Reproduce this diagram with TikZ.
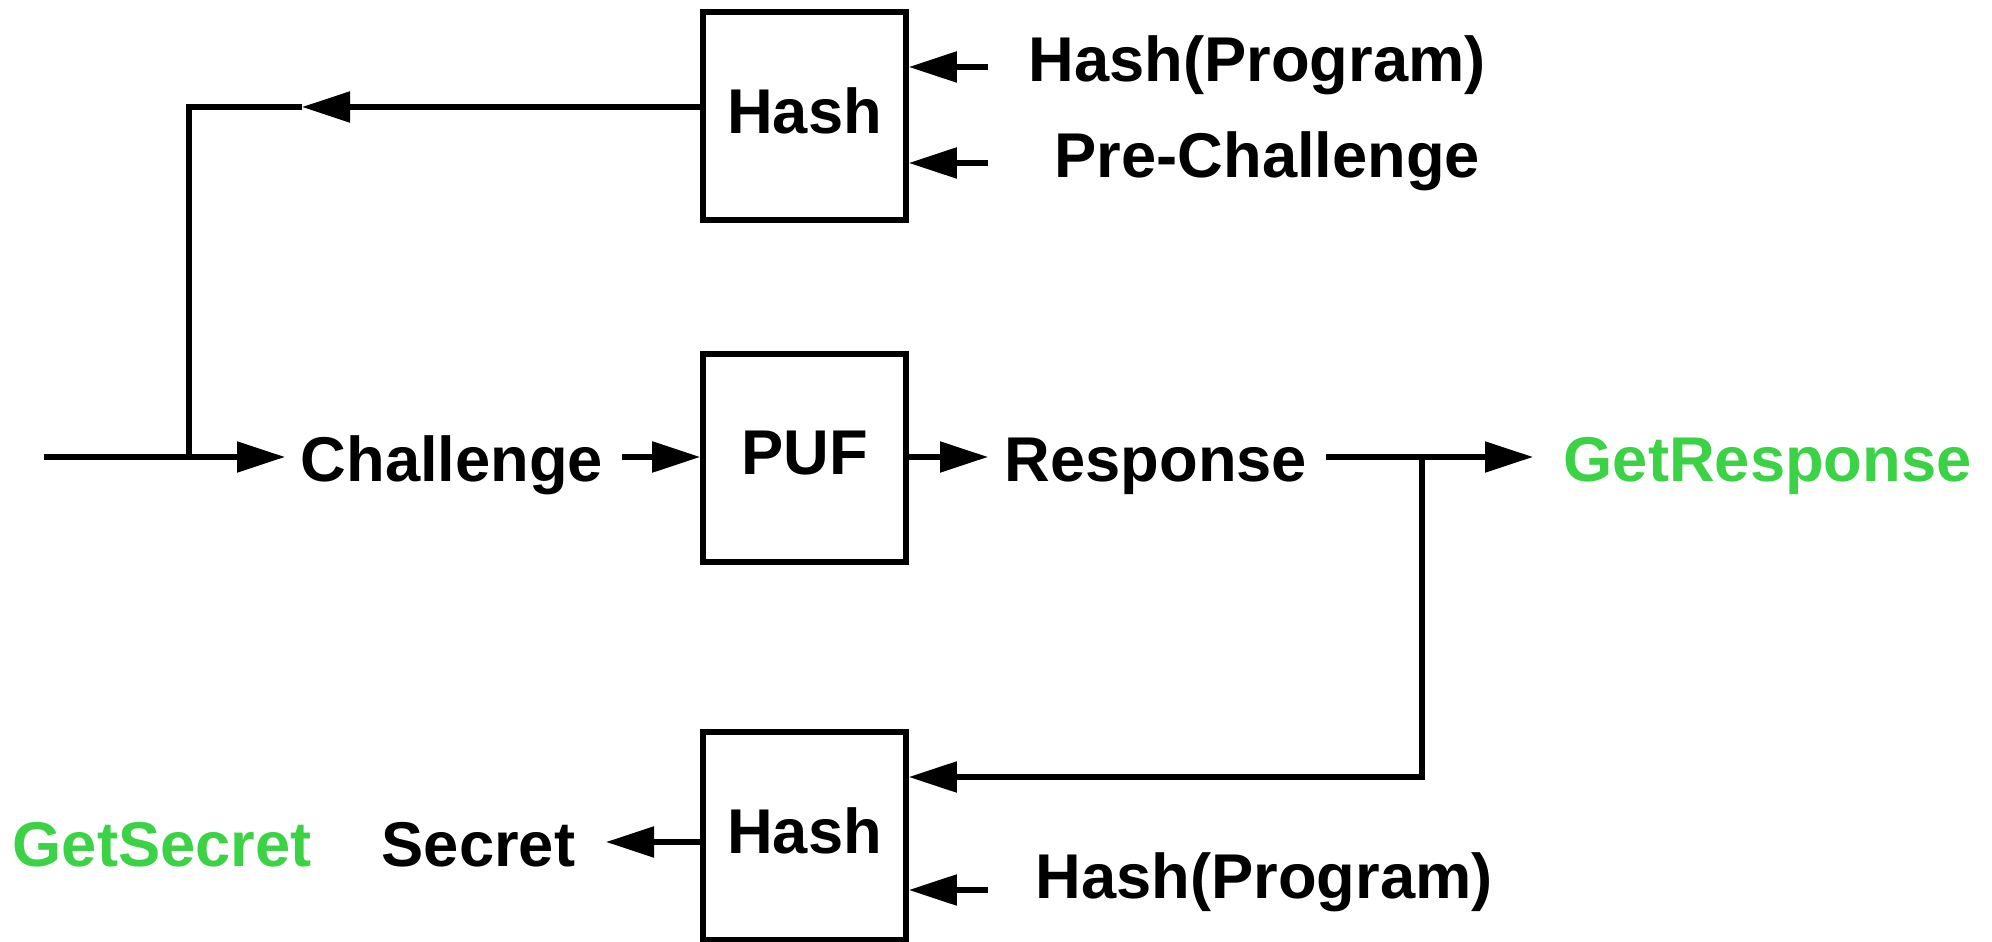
\documentclass[tikz,border=0pt]{standalone}
\usepackage{fontspec}
\setmainfont{Liberation Sans}
\usetikzlibrary{positioning,arrows.meta}
\definecolor{getgreen}{RGB}{60,210,70}

\begin{document}
\begin{tikzpicture}[
    blockbox/.style={rectangle, draw, line width=1.6pt, minimum width=2.03cm, minimum height=2.08cm, inner sep=0pt, text depth=0.1cm},
    txt/.style={inner sep=0pt, anchor=base west},
    wire/.style={line width=1.5pt},
    arr/.style={wire, -{Triangle[length=4.8mm, width=3mm]}},
    font=\fontsize{18}{21}\selectfont\bfseries
]
\useasboundingbox (0,0) rectangle (19.92,-9.42);

% Blocks
\node[blockbox] (hashtop) at (8.045,-1.16) {Hash};
\node[blockbox] (puf) at (8.045,-4.58) {PUF};
\node[blockbox] (hashbot) at (8.045,-8.36) {Hash};

% Inputs of the upper hash
\node[txt] (hp1) at (10.28,-0.82) {Hash(Program)};
\node[txt] (prech) at (10.54,-1.78) {Pre-Challenge};
\coordinate (in1) at (9.88,-0.67);
\coordinate (in2) at (9.88,-1.63);
\draw[arr] (in1) -- (in1 -| hashtop.east);
\draw[arr] (in2) -- (in2 -| hashtop.east);

% Feedback from the upper hash
\coordinate (fbtip) at (3.02,-1.07);
\coordinate (fbcorner) at (1.89,-1.07);
\coordinate (split) at (1.89,-4.57);
\draw[arr] (hashtop.west |- fbtip) -- (fbtip);
\draw[wire] (fbtip) -- (fbcorner) -- (split);

% Challenge path
\coordinate (start) at (0.44,-4.57);
\coordinate (chtip) at (2.85,-4.57);
\draw[arr] (start) -- (chtip);
\node[txt] (chal) at (3.00,-4.82) {Challenge};
\coordinate (chout) at (6.22,-4.57);
\draw[arr] (chout) -- (chout -| puf.west);

% Response path
\coordinate (resptip) at (9.88,-4.57);
\draw[arr] (puf.east |- resptip) -- (resptip);
\node[txt] (resp) at (10.04,-4.82) {Response};
\coordinate (rout) at (13.26,-4.57);
\coordinate (rsplit) at (14.22,-4.57);
\coordinate (grtip) at (15.33,-4.57);
\draw[arr] (rout) -- (grtip);
\node[txt, getgreen] (getresp) at (15.63,-4.82) {GetResponse};
\coordinate (rcorner) at (14.22,-7.77);
\draw[arr] (rsplit) -- (rcorner) -- (rcorner -| hashbot.east);

% Lower hash
\node[txt] (hp2) at (10.35,-8.98) {Hash(Program)};
\coordinate (in3) at (9.88,-8.90);
\draw[arr] (in3) -- (in3 -| hashbot.east);
\coordinate (sectip) at (6.06,-8.42);
\draw[arr] (hashbot.west |- sectip) -- (sectip);
\node[txt] (secret) at (3.81,-8.66) {Secret};
\node[txt, getgreen] (getsecret) at (0.12,-8.66) {GetSecret};

\end{tikzpicture}
\end{document}
